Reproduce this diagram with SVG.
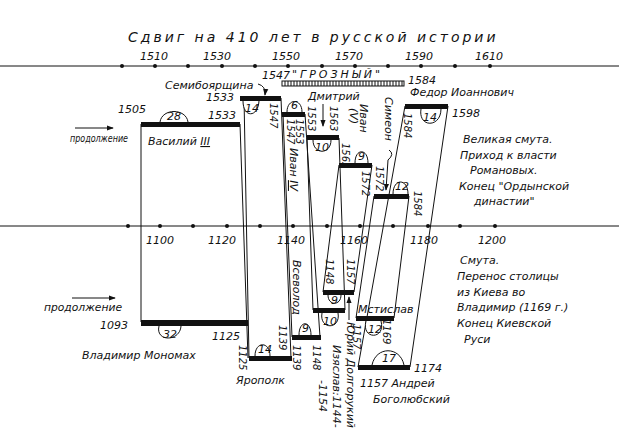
<svg xmlns="http://www.w3.org/2000/svg" width="619" height="445" viewBox="0 0 619 445">
<style>
text{font-family:"DejaVu Sans","Liberation Sans",sans-serif;font-style:italic;font-size:11px;fill:#111}
.t{font-size:14px;letter-spacing:3px}
.ax{font-size:11px}
.bar{fill:#111}
.ln{stroke:#111;stroke-width:1;fill:none}
.bp{stroke:#111;stroke-width:1;fill:#fff}
.v{font-size:10px}
</style>
<defs>
<marker id="ar" viewBox="0 0 8 8" refX="7" refY="4" markerWidth="7" markerHeight="7" orient="auto"><path d="M0,1 L8,4 L0,7 z" fill="#111"/></marker>
</defs>
<rect width="619" height="445" fill="#fff"/>
<text class="t" x="128" y="42">Сдвиг на 410 лет в русской истории</text>
<g id="axes">
<line class="ln" x1="0" y1="66" x2="619" y2="66"/>
<line class="ln" x1="0" y1="226" x2="619" y2="226"/>
<g fill="#111">
<circle cx="122" cy="66" r="2"/><circle cx="155" cy="66" r="2"/><circle cx="188" cy="66" r="2"/><circle cx="222" cy="66" r="2"/><circle cx="255" cy="66" r="2"/><circle cx="288" cy="66" r="2"/><circle cx="322" cy="66" r="2"/><circle cx="355" cy="66" r="2"/><circle cx="388" cy="66" r="2"/><circle cx="421" cy="66" r="2"/><circle cx="455" cy="66" r="2"/><circle cx="490" cy="66" r="2"/>
<circle cx="128" cy="226" r="2"/><circle cx="160" cy="226" r="2"/><circle cx="193" cy="226" r="2"/><circle cx="227" cy="226" r="2"/><circle cx="260" cy="226" r="2"/><circle cx="293" cy="226" r="2"/><circle cx="327" cy="226" r="2"/><circle cx="360" cy="226" r="2"/><circle cx="393" cy="226" r="2"/><circle cx="428" cy="226" r="2"/><circle cx="460" cy="226" r="2"/><circle cx="495" cy="226" r="2"/>
</g>
<text class="ax" x="140" y="60">1510</text><text class="ax" x="203" y="60">1530</text><text class="ax" x="272" y="60">1550</text><text class="ax" x="335" y="60">1570</text><text class="ax" x="405" y="60">1590</text><text class="ax" x="475" y="60">1610</text>
<text class="ax" x="146" y="244">1100</text><text class="ax" x="208" y="244">1120</text><text class="ax" x="277" y="244">1140</text><text class="ax" x="340" y="244">1160</text><text class="ax" x="410" y="244">1180</text><text class="ax" x="478" y="244">1200</text>
</g>
<g id="connectors">
<line class="ln" x1="141" y1="124" x2="141" y2="322"/>
<line class="ln" x1="240" y1="124" x2="248" y2="358"/>
<line class="ln" x1="244" y1="98" x2="249" y2="358"/>
<line class="ln" x1="281" y1="98" x2="291" y2="358"/>
<line class="ln" x1="283" y1="114" x2="292" y2="337"/>
<line class="ln" x1="305" y1="114" x2="320" y2="337"/>
<line class="ln" x1="307" y1="138" x2="313" y2="310"/>
<line class="ln" x1="339" y1="138" x2="345" y2="310"/>
<line class="ln" x1="339" y1="165" x2="323" y2="292"/>
<line class="ln" x1="372" y1="165" x2="354" y2="292"/>
<line class="ln" x1="374" y1="196" x2="356" y2="318"/>
<line class="ln" x1="409" y1="196" x2="394" y2="318"/>
<line class="ln" x1="405" y1="106" x2="358" y2="367"/>
<line class="ln" x1="448" y1="106" x2="410" y2="367"/>
<line class="ln" x1="75" y1="128" x2="113" y2="128" marker-end="url(#ar)"/>
<line class="ln" x1="72" y1="298" x2="115" y2="298" marker-end="url(#ar)"/>
<path class="ln" d="M258,84 Q266,86 265,95" marker-end="url(#ar)"/>
<line class="ln" x1="323" y1="104" x2="323" y2="126" marker-end="url(#ar)"/>
<path class="ln" d="M389,150 Q395,154 388,160 L386,190" marker-end="url(#ar)"/>
<line class="ln" x1="349" y1="320" x2="349" y2="297" marker-end="url(#ar)"/>
</g>
<g id="grozny">
<rect x="282" y="81" width="122" height="5" fill="#fff" stroke="#111"/>
<path class="ln" d="M285,81v5M288,81v5M291,81v5M294,81v5M297,81v5M300,81v5M303,81v5M306,81v5M309,81v5M312,81v5M315,81v5M318,81v5M321,81v5M324,81v5M327,81v5M330,81v5M333,81v5M336,81v5M339,81v5M342,81v5M345,81v5M348,81v5M351,81v5M354,81v5M357,81v5M360,81v5M363,81v5M366,81v5M369,81v5M372,81v5M375,81v5M378,81v5M381,81v5M384,81v5M387,81v5M390,81v5M393,81v5M396,81v5M399,81v5M402,81v5"/>
<text x="292" y="78" style="letter-spacing:3px">"ГРОЗНЫЙ"</text>
<text x="408" y="84">1584</text>
<text x="262" y="79" font-size="10">1547</text>
</g>
<g id="vasily">
<rect class="bar" x="141" y="122" width="99" height="5"/>
<path class="bp" d="M160,122 C162,108 186,108 188,122"/>
<text x="167" y="120">28</text>
<text x="118" y="113">1505</text><text x="208" y="119">1533</text>
<text x="148" y="145" font-size="12">Василий <tspan text-decoration="underline">III</tspan></text>
<text x="70" y="142" font-size="10" textLength="58" lengthAdjust="spacingAndGlyphs">продолжение</text>
</g>
<g id="b1533">
<rect class="bar" x="240" y="96" width="41" height="5"/>
<path class="bp" d="M243,101 C243,118 258,118 259,101"/>
<text x="245" y="112">14</text>
<text x="206" y="101">1533</text>
<text x="165" y="89">Семибоярщина</text>
<text class="v" transform="translate(270,103) rotate(90)">1547</text>
</g>
<g id="ivan4">
<rect class="bar" x="282" y="112" width="23" height="5"/>
<path class="bp" d="M287,112 C287,98 302,98 302,112"/>
<text x="291" y="109">6</text>
<text class="v" transform="translate(296,119) rotate(90)">1553</text>
<text class="v" transform="translate(287,119) rotate(90)">1547</text>
<text transform="translate(290,148) rotate(90)" font-size="12">Иван <tspan text-decoration="underline">IV</tspan></text>
</g>
<g id="dmitry">
<rect class="bar" x="307" y="135" width="32" height="5"/>
<path class="bp" d="M313,140 C313,155 331,155 331,140"/>
<text x="315" y="151">10</text>
<text x="308" y="100">Дмитрий</text>
<text class="v" transform="translate(308,106) rotate(90)">1553</text>
<text class="v" transform="translate(330,106) rotate(90)">1563</text>
<text class="v" transform="translate(342,143) rotate(90)">1563</text>
<text transform="translate(360,104) rotate(90)">Иван</text>
<text transform="translate(350,108) rotate(90)">(V)</text>
</g>
<g id="ivan5">
<rect class="bar" x="339" y="163" width="33" height="5"/>
<path class="bp" d="M355,163 C355,148 368,148 368,163"/>
<text x="358" y="160">9</text>
<text class="v" transform="translate(362,171) rotate(90)">1572</text>
<text class="v" transform="translate(376,166) rotate(90)">1572</text>
</g>
<g id="simeon">
<rect class="bar" x="374" y="194" width="35" height="5"/>
<path class="bp" d="M393,194 C393,178 408,178 408,194"/>
<text x="395" y="190">12</text>
<text transform="translate(385,97) rotate(90)" font-size="12">Симеон</text>
<text class="v" transform="translate(414,191) rotate(90)">1584</text>
</g>
<g id="fedor">
<rect class="bar" x="405" y="104" width="43" height="5"/>
<path class="bp" d="M421,109 C418,128 441,128 441,109"/>
<text x="423" y="121">14</text>
<text x="410" y="96">Федор Иоаннович</text>
<text x="452" y="117">1598</text>
<text class="v" transform="translate(404,113) rotate(90)">1584</text>
</g>
<g id="note-top">
<text x="463" y="143" font-size="12">Великая смута.</text>
<text x="460" y="159" font-size="12">Приход к власти</text>
<text x="470" y="174" font-size="12">Романовых.</text>
<text x="459" y="190" font-size="12">Конец "Ордынской</text>
<text x="474" y="205" font-size="12">династии"</text>
</g>
<g id="monomakh">
<rect class="bar" x="141" y="320" width="107" height="6"/>
<path class="bp" d="M159,326 C155,342 180,342 181,326"/>
<text x="163" y="338">32</text>
<text x="100" y="329">1093</text><text x="212" y="340">1125</text>
<text x="82" y="359" font-size="12">Владимир Мономах</text>
<text x="44" y="311" font-size="10" textLength="78" lengthAdjust="spacingAndGlyphs">продолжение</text>
</g>
<g id="yaropolk">
<rect class="bar" x="249" y="356" width="43" height="5"/>
<path class="bp" d="M255,356 C255,341 270,341 270,356"/>
<text x="258" y="353">14</text>
<text class="v" transform="translate(239,345) rotate(90)">1125</text>
<text x="236" y="384">Ярополк</text>
</g>
<g id="vsevolod">
<rect class="bar" x="292" y="335" width="29" height="5"/>
<path class="bp" d="M299,335 C299,320 311,320 311,335"/>
<text x="302" y="332">9</text>
<text transform="translate(293,260) rotate(90)" font-size="12">Всеволод</text>
<text class="v" transform="translate(279,325) rotate(90)">1139</text>
<text class="v" transform="translate(293,345) rotate(90)">1139</text>
<text class="v" transform="translate(313,345) rotate(90)">1148</text>
</g>
<g id="izyaslav">
<rect class="bar" x="313" y="308" width="32" height="5"/>
<path class="bp" d="M322,313 C319,330 341,330 338,313"/>
<text x="323" y="325">10</text>
<text transform="translate(333,345) rotate(90)">Изяслав:1144-</text>
<text transform="translate(319,380) rotate(90)">-1154</text>
</g>
<g id="yuri">
<rect class="bar" x="323" y="290" width="31" height="5"/>
<path class="bp" d="M328,295 C328,306 341,306 341,295"/>
<text x="331" y="304">9</text>
<text class="v" transform="translate(326,259) rotate(90)">1148</text>
<text class="v" transform="translate(347,259) rotate(90)">1157</text>
<text transform="translate(347,322) rotate(90)">Юрий Долгорукий</text>
</g>
<g id="mstislav">
<rect class="bar" x="356" y="316" width="38" height="5"/>
<path class="bp" d="M366,321 C361,340 386,340 381,321"/>
<text x="368" y="333">12</text>
<text x="358" y="313" font-size="12">Мстислав</text>
<text class="v" transform="translate(353,324) rotate(90)">1157</text>
<text class="v" transform="translate(383,319) rotate(90)">1169</text>
</g>
<g id="andrey">
<rect class="bar" x="358" y="365" width="52" height="5"/>
<path class="bp" d="M372,365 C376,346 400,346 404,365"/>
<text x="382" y="362">17</text>
<text x="414" y="372">1174</text>
<text x="360" y="387" font-size="12">1157 Андрей</text>
<text x="373" y="403" font-size="12">Боголюбский</text>
</g>
<g id="note-bottom">
<text x="460" y="264" font-size="12">Смута.</text>
<text x="457" y="280" font-size="12">Перенос столицы</text>
<text x="457" y="296" font-size="12">из Киева во</text>
<text x="457" y="311" font-size="12">Владимир (1169 г.)</text>
<text x="457" y="327" font-size="12">Конец Киевской</text>
<text x="464" y="343" font-size="12">Руси</text>
</g>
</svg>
